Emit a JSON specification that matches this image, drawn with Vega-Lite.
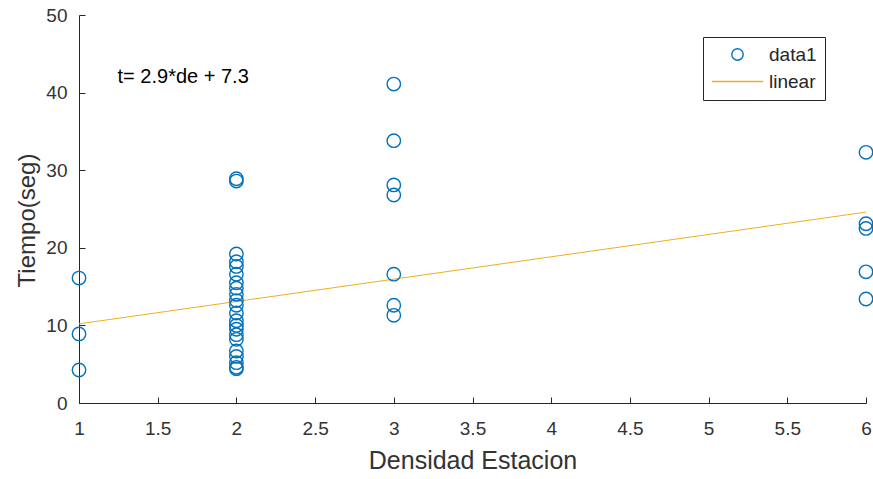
{
  "$schema": "https://vega.github.io/schema/vega-lite/v6.json",
  "autosize": "none",
  "width": 787,
  "height": 388,
  "padding": {"left": 79, "top": 15, "right": 7, "bottom": 76},
  "background": "white",
  "config": {
    "view": {"stroke": null},
    "font": "Liberation Sans",
    "axis": {
      "domainColor": "#262626",
      "tickColor": "#262626",
      "labelColor": "#333333",
      "titleColor": "#333333",
      "labelFont": "Liberation Sans",
      "titleFont": "Liberation Sans",
      "labelFontSize": 19,
      "titleFontWeight": "normal",
      "grid": false,
      "tickSize": -6,
      "domainWidth": 1,
      "tickWidth": 1
    }
  },
  "datasets": {
    "pts": [
      {"de": 1, "t": 16.1, "series": "data1"},
      {"de": 1, "t": 8.9, "series": "data1"},
      {"de": 1, "t": 4.25, "series": "data1"},
      {"de": 2, "t": 28.9, "series": "data1"},
      {"de": 2, "t": 28.6, "series": "data1"},
      {"de": 2, "t": 19.2, "series": "data1"},
      {"de": 2, "t": 18.2, "series": "data1"},
      {"de": 2, "t": 17.6, "series": "data1"},
      {"de": 2, "t": 16.6, "series": "data1"},
      {"de": 2, "t": 15.5, "series": "data1"},
      {"de": 2, "t": 14.8, "series": "data1"},
      {"de": 2, "t": 14.0, "series": "data1"},
      {"de": 2, "t": 13.2, "series": "data1"},
      {"de": 2, "t": 12.6, "series": "data1"},
      {"de": 2, "t": 11.6, "series": "data1"},
      {"de": 2, "t": 10.6, "series": "data1"},
      {"de": 2, "t": 10.0, "series": "data1"},
      {"de": 2, "t": 9.5, "series": "data1"},
      {"de": 2, "t": 8.8, "series": "data1"},
      {"de": 2, "t": 8.2, "series": "data1"},
      {"de": 2, "t": 6.7, "series": "data1"},
      {"de": 2, "t": 6.0, "series": "data1"},
      {"de": 2, "t": 5.2, "series": "data1"},
      {"de": 2, "t": 4.6, "series": "data1"},
      {"de": 2, "t": 4.4, "series": "data1"},
      {"de": 3, "t": 41.1, "series": "data1"},
      {"de": 3, "t": 33.8, "series": "data1"},
      {"de": 3, "t": 28.1, "series": "data1"},
      {"de": 3, "t": 26.8, "series": "data1"},
      {"de": 3, "t": 16.6, "series": "data1"},
      {"de": 3, "t": 12.6, "series": "data1"},
      {"de": 3, "t": 11.3, "series": "data1"},
      {"de": 6, "t": 32.3, "series": "data1"},
      {"de": 6, "t": 23.1, "series": "data1"},
      {"de": 6, "t": 22.5, "series": "data1"},
      {"de": 6, "t": 16.9, "series": "data1"},
      {"de": 6, "t": 13.4, "series": "data1"}
    ],
    "fit": [
      {"de": 1, "t": 10.2, "series": "linear"},
      {"de": 6, "t": 24.6, "series": "linear"}
    ],
    "note": [
      {"de": 1.245, "t": 42.0, "label": "t= 2.9*de + 7.3"}
    ]
  },
  "layer": [
    {
      "data": {"name": "fit"},
      "mark": {"type": "line", "strokeWidth": 1, "clip": true},
      "encoding": {
        "x": {"field": "de", "type": "quantitative"},
        "y": {"field": "t", "type": "quantitative"},
        "color": {"field": "series", "type": "nominal"}
      }
    },
    {
      "data": {"name": "pts"},
      "mark": {"type": "point", "filled": false, "strokeWidth": 1.4, "size": 180, "opacity": 1},
      "encoding": {
        "x": {
          "field": "de", "type": "quantitative",
          "scale": {"domain": [1, 6], "nice": false, "zero": false},
          "axis": {"values": [1, 1.5, 2, 2.5, 3, 3.5, 4, 4.5, 5, 5.5, 6], "format": "~g", "title": "Densidad Estacion", "titleFontSize": 25, "labelPadding": 22, "titlePadding": 10, "labelFlush": false}
        },
        "y": {
          "field": "t", "type": "quantitative",
          "scale": {"domain": [0, 50], "nice": false},
          "axis": {"values": [0, 10, 20, 30, 40, 50], "title": "Tiempo(seg)", "titleFontSize": 24, "titleY": 205, "labelPadding": 18, "titlePadding": 6}
        },
        "color": {
          "field": "series", "type": "nominal",
          "scale": {"domain": ["data1", "linear"], "range": ["#0072BD", "#EDB120"]},
          "legend": {
            "title": null,
            "orient": "none",
            "legendX": 624,
            "legendY": 22,
            "strokeColor": "#262626",
            "fillColor": "white",
            "padding": 8,
            "cornerRadius": 0,
            "labelFontSize": 19,
            "labelColor": "#262626",
            "labelFont": "Liberation Sans",
            "symbolSize": 130,
            "symbolStrokeWidth": 1.4,
            "labelOffset": 22,
            "rowPadding": 7,
            "symbolOffset": 17
          }
        },
        "shape": {
          "field": "series", "type": "nominal",
          "scale": {"domain": ["data1", "linear"], "range": ["circle", "M-4.5,0H4.5"]}
        }
      }
    },
    {
      "data": {"name": "note"},
      "mark": {"type": "text", "align": "left", "baseline": "middle", "fontSize": 20, "color": "#000000", "font": "Liberation Sans"},
      "encoding": {
        "x": {"field": "de", "type": "quantitative"},
        "y": {"field": "t", "type": "quantitative"},
        "text": {"field": "label"}
      }
    }
  ]
}
